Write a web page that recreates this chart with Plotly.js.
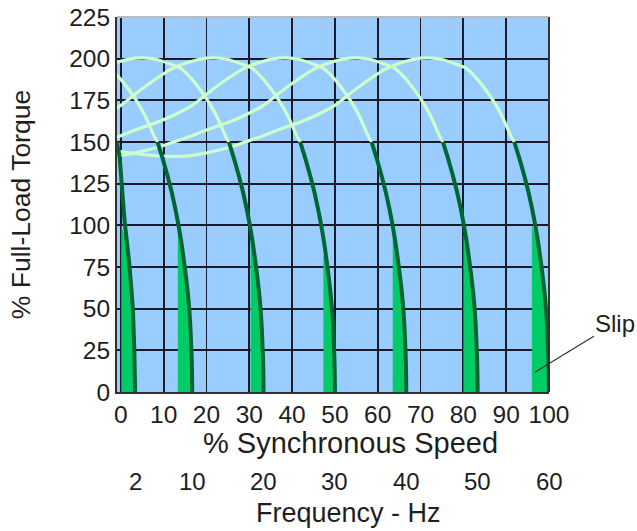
<!DOCTYPE html>
<html>
<head>
<meta charset="utf-8">
<script src="https://cdn.plot.ly/plotly-3.0.1.min.js"></script>
<style>html,body{margin:0;padding:0;background:#fff;}#chart{width:637px;height:531px;}</style>
</head>
<body>
<div id="chart"></div>
<script>
// Drive frequencies (Hz) and the matching synchronous speed (% of 60 Hz speed)
const freqHz = [2, 10, 20, 30, 40, 50, 60];
const syncSpeed = [3.33, 16.67, 33.33, 50, 66.67, 83.33, 100];

// Upper (light) part of the 60 Hz torque-speed curve
const curveSpeed60 = [-1, 5, 10, 15, 20, 25, 29, 33, 37, 42, 46, 50, 54, 58, 62, 66, 70, 72, 75, 78, 80.5, 83, 86, 88, 89.5, 90.5, 91.3, 91.9];
const curveTorque60 = [144.5, 142.5, 141.5, 141.5, 143.5, 146.5, 150, 153.5, 157.5, 162, 166.5, 172, 180, 187.5, 194, 198, 200.3, 200.5, 199.5, 197, 194.5, 188.5, 178.5, 170.5, 163, 157, 152.5, 150];

// Lower (dark) operating part: speed below synchronous speed at each torque
const opTorque = [150, 140, 130, 120, 110, 100, 90, 80, 70, 60, 50, 40, 30, 20, 10, 0];
const opBelowSync = [8.1, 6.9, 5.8, 4.8, 3.95, 3.2, 2.55, 2.0, 1.5, 1.05, 0.7, 0.45, 0.28, 0.12, 0.04, 0];

// The 2 Hz curve is drawn steeper
const speed2Hz = [-0.9, -0.3, 0.4, 0.9, 1.5, 2.0, 2.45, 2.8, 3.15, 3.33];
const torque2Hz = [150, 141, 118, 102, 88, 76, 62, 50, 25, 0];

// Slip areas: left edge speed and top torque
const slipLeft = [0.1, 13.3, 30.3, 47.3, 63.5, 80.0, 96.0];
const slipTop = [100, 100, 97, 82, 100, 94, 100];

const xTicks = [0, 10, 20, 30, 40, 50, 60, 70, 80, 90, 100];
const yTicks = [0, 25, 50, 75, 100, 125, 150, 175, 200, 225];

const LIGHT = '#ccffcc', DARK = '#006633', SLIP = '#00cc66';
const FONT = 'Liberation Sans, Arial, sans-serif';
const TXT = '#1e1e1e';

const traces = [];
// Slip fills
freqHz.forEach((f, i) => {
  let cx, cy;
  if (f === 2) { cx = speed2Hz.slice(); cy = torque2Hz.slice(); }
  else { cx = opBelowSync.map(d => syncSpeed[i] - d); cy = opTorque.slice(); }
  const px = [slipLeft[i], slipLeft[i]], py = [0, slipTop[i]];
  cy.forEach((t, k) => { if (t < slipTop[i]) { px.push(cx[k]); py.push(t); } });
  traces.push({x: px, y: py, type: 'scatter', mode: 'lines', fill: 'toself', fillcolor: SLIP,
    line: {width: 0, color: SLIP}, hoverinfo: 'skip', showlegend: false});
});
// Light upper curves
freqHz.forEach((f, i) => {
  if (f === 2) return;
  traces.push({x: curveSpeed60.map(s => s + syncSpeed[i] - 100), y: curveTorque60, type: 'scatter', mode: 'lines',
    line: {color: LIGHT, width: 3.2, shape: 'spline', smoothing: 0.6}, showlegend: false, name: f + ' Hz'});
});
// Dark operating curves
freqHz.forEach((f, i) => {
  const cx = f === 2 ? speed2Hz : opBelowSync.map(d => syncSpeed[i] - d);
  const cy = f === 2 ? torque2Hz : opTorque;
  traces.push({x: cx, y: cy, type: 'scatter', mode: 'lines',
    line: {color: DARK, width: 4, shape: 'spline', smoothing: 0.4}, showlegend: false, name: f + ' Hz'});
});

const annotations = freqHz.map((f, i) => ({
  x: syncSpeed[i], xref: 'x', y: -0.238, yref: 'paper', text: String(f), showarrow: false,
  xanchor: 'center', yanchor: 'middle', font: {family: FONT, size: 24, color: TXT}
}));
annotations.push({x: 0.5396, xref: 'paper', y: -0.136, yref: 'paper', text: '% Synchronous Speed', showarrow: false,
  xanchor: 'center', yanchor: 'middle', font: {family: FONT, size: 29, color: TXT}});
annotations.push({x: 0.537, xref: 'paper', y: -0.322, yref: 'paper', text: 'Frequency - Hz', showarrow: false,
  xanchor: 'center', yanchor: 'middle', font: {family: FONT, size: 27, color: TXT}});
annotations.push({x: 96.8, xref: 'x', y: 12, yref: 'y', text: 'Slip', showarrow: true, arrowhead: 0,
  arrowwidth: 1.2, arrowcolor: '#333', ax: 80, ay: -49, standoff: 0,
  font: {family: FONT, size: 24, color: TXT}});

const layout = {
  width: 637, height: 531,
  margin: {l: 117, r: 88, t: 17, b: 139},
  paper_bgcolor: '#ffffff', plot_bgcolor: '#99ccff',
  showlegend: false,
  xaxis: {range: [-0.9, 100], tickvals: xTicks, showgrid: true, gridcolor: '#1a1a2a', gridwidth: 1.8,
    zeroline: false, showline: true, linecolor: '#333', linewidth: 2, ticks: '',
    tickfont: {family: FONT, size: 24.5, color: TXT}},
  yaxis: {range: [0, 225], tickvals: yTicks, showgrid: true, gridcolor: '#1a1a2a', gridwidth: 1.8,
    zeroline: false, showline: true, linecolor: '#333', linewidth: 2, ticks: '',
    tickfont: {family: FONT, size: 24.5, color: TXT},
    title: {text: '% Full-Load Torque', font: {family: FONT, size: 26.5, color: TXT}, standoff: 31}},
  shapes: [
    {type: 'line', xref: 'paper', yref: 'paper', x0: 0, x1: 1, y0: 1, y1: 1, line: {color: '#bbbbbb', width: 2}},
    {type: 'line', xref: 'paper', yref: 'paper', x0: 1, x1: 1, y0: 0, y1: 1, line: {color: '#333', width: 2}}
  ],
  annotations: annotations
};

Plotly.newPlot('chart', traces, layout, {staticPlot: true, displayModeBar: false});
</script>
</body>
</html>
